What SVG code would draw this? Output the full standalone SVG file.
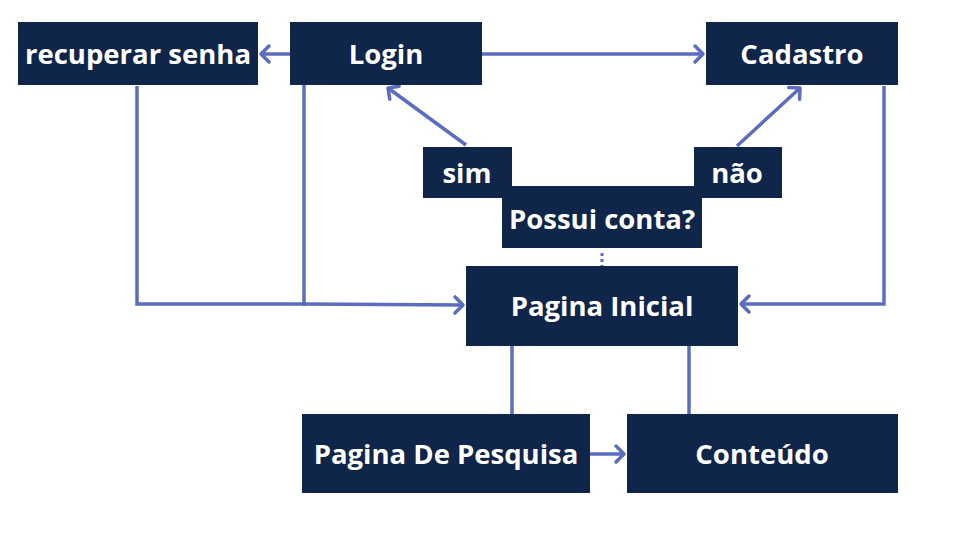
<svg xmlns="http://www.w3.org/2000/svg" width="957" height="554" viewBox="0 0 957 554">
<style>
.box{fill:#0F2549}
.t{fill:#FFFFFF;font-family:"Open Sans","Noto Sans","DejaVu Sans",sans-serif;font-weight:700;font-size:27.5px;text-anchor:middle}
.c{fill:none;stroke:#5A6DC0;stroke-width:3.5}
</style>
<defs>
<marker id="ah" markerUnits="userSpaceOnUse" markerWidth="24" markerHeight="24" viewBox="-12 -12 24 24" refX="0" refY="0" orient="auto">
<path d="M-8,-8 L0,0 L-8,8" fill="none" stroke="#5A6DC0" stroke-width="3.5" stroke-linecap="round" stroke-linejoin="round"/>
</marker>
</defs>
<rect width="957" height="554" fill="#FFFFFF"/>
<g id="connectors">
<line class="c" x1="290" y1="54" x2="261" y2="54" marker-end="url(#ah)"/>
<line class="c" x1="482" y1="54" x2="703" y2="54" marker-end="url(#ah)"/>
<line class="c" x1="466" y1="145" x2="388" y2="88" marker-end="url(#ah)"/>
<line class="c" x1="737" y1="146" x2="800" y2="88" marker-end="url(#ah)"/>
<line class="c" x1="602" y1="253" x2="602" y2="266" stroke-dasharray="3,3" style="stroke-width:3"/>
<polyline class="c" points="137,86 137,304 304,304 463,305" marker-end="url(#ah)"/>
<line class="c" x1="304" y1="85" x2="304" y2="306"/>
<polyline class="c" points="884,86 884,304 741,304" marker-end="url(#ah)"/>
<line class="c" x1="512" y1="346" x2="512" y2="414"/>
<line class="c" x1="689" y1="346" x2="689" y2="414"/>
<line class="c" x1="590" y1="454" x2="624" y2="454" marker-end="url(#ah)"/>
</g>
<g id="recuperar-senha"><rect class="box" x="18" y="22" width="240" height="63"/><text class="t" x="138" y="64">recuperar senha</text></g>
<g id="login"><rect class="box" x="290" y="22" width="192" height="63"/><text class="t" x="386" y="64">Login</text></g>
<g id="cadastro"><rect class="box" x="706" y="22" width="192" height="63"/><text class="t" x="802" y="64">Cadastro</text></g>
<g id="sim"><rect class="box" x="423" y="147" width="89" height="51"/><text class="t" x="467" y="183">sim</text></g>
<g id="nao"><rect class="box" x="694" y="147" width="88" height="51"/><text class="t" x="737" y="183">não</text></g>
<g id="possui-conta"><rect class="box" x="502" y="186" width="200" height="62"/><text class="t" x="602" y="229">Possui conta?</text></g>
<g id="pagina-inicial"><rect class="box" x="466" y="266" width="272" height="80"/><text class="t" x="602" y="316">Pagina Inicial</text></g>
<g id="pagina-de-pesquisa"><rect class="box" x="302" y="414" width="288" height="79"/><text class="t" x="446" y="464">Pagina De Pesquisa</text></g>
<g id="conteudo"><rect class="box" x="627" y="414" width="271" height="79"/><text class="t" x="762" y="464">Conteúdo</text></g>
</svg>
